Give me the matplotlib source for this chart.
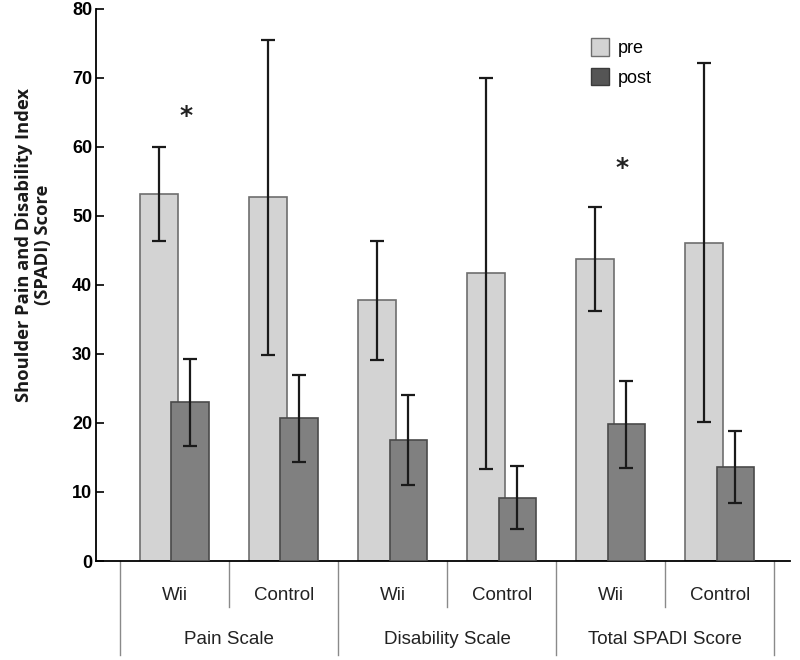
import matplotlib.pyplot as plt
import numpy as np
from matplotlib.patches import Patch

# SPADI scores, pre/post, mean and error
subgroups = ["Wii", "Control", "Wii", "Control", "Wii", "Control"]
scales = ["Pain Scale", "Disability Scale", "Total SPADI Score"]
pre_mean = [53.2, 52.7, 37.8, 41.7, 43.8, 46.1]
pre_err = [6.8, 22.8, 8.6, 28.3, 7.5, 26.0]
post_mean = [23.0, 20.7, 17.5, 9.2, 19.8, 13.6]
post_err = [6.3, 6.3, 6.5, 4.5, 6.3, 5.2]
star_idx = [0, 4]
star_y = [64.5, 57.0]

x = np.arange(len(subgroups))
w = 0.345
off = 0.143

fig = plt.figure(figsize=(8, 6.6), dpi=100)
ax = fig.add_axes([0.1205, 0.15, 0.8665, 0.8364])

ebar = dict(ecolor="#1a1a1a", elinewidth=1.6, capsize=5, capthick=1.6)
ax.bar(x - off, pre_mean, w, color="#d3d3d3", edgecolor="#6e6e6e", linewidth=1.2,
       yerr=pre_err, error_kw=ebar, zorder=2)
ax.bar(x + off, post_mean, w, color="#808080", edgecolor="#4a4a4a", linewidth=1.2,
       yerr=post_err, error_kw=ebar, zorder=3)

for i, yy in zip(star_idx, star_y):
    ax.text(x[i] + 0.1, yy, "*", ha="center", va="center", fontsize=18,
            fontweight="bold", color="#222222")

ax.set_ylim(0, 80)
ax.set_xlim(-0.718, 5.64)
ax.set_yticks(np.arange(0, 81, 10))
ax.tick_params(axis="y", direction="in", length=6, width=1.2, labelsize=13, pad=3)
for lbl in ax.get_yticklabels():
    lbl.set_fontweight("bold")
    lbl.set_family("Liberation Sans")
ax.set_xticks([])
for s in ["top", "right"]:
    ax.spines[s].set_visible(False)
ax.spines["left"].set_linewidth(1.3)
ax.spines["bottom"].set_linewidth(1.3)

fig.text(33.5 / 800, 1 - 245 / 660,
         "Shoulder Pain and Disability Index\n(SPADI) Score",
         rotation=90, ha="center", va="center", fontsize=13.2,
         fontweight="bold", family="Open Sans", linespacing=1.05, color="#1a1a1a")

# category dividers under the axis
trans = ax.get_xaxis_transform()
for k in range(len(subgroups) + 1):
    xd = k - 0.5
    y1 = -0.17 if k % 2 == 0 else -0.083
    ax.plot([xd, xd], [0, y1], transform=trans, clip_on=False, color="#8a8a8a", lw=1.0)

for i, s in enumerate(subgroups):
    ax.text(x[i], -0.063, s, transform=trans, ha="center", va="center",
            fontsize=13.5, family="Liberation Sans", color="#222222")
for j, s in enumerate(scales):
    ax.text(2 * j + 0.5, -0.143, s, transform=trans, ha="center", va="center",
            fontsize=13.5, family="Liberation Sans", color="#222222")

handles = [Patch(facecolor="#d3d3d3", edgecolor="#6e6e6e", label="pre"),
           Patch(facecolor="#555555", edgecolor="#3a3a3a", label="post")]
leg = ax.legend(handles=handles, loc="upper left", bbox_to_anchor=(0.69, 0.976),
                frameon=False, fontsize=13, handlelength=1.0, handleheight=1.1,
                handletextpad=0.5, labelspacing=0.6)
for t in leg.get_texts():
    t.set_family("Liberation Sans")

fig.savefig("out.png", dpi=100)
